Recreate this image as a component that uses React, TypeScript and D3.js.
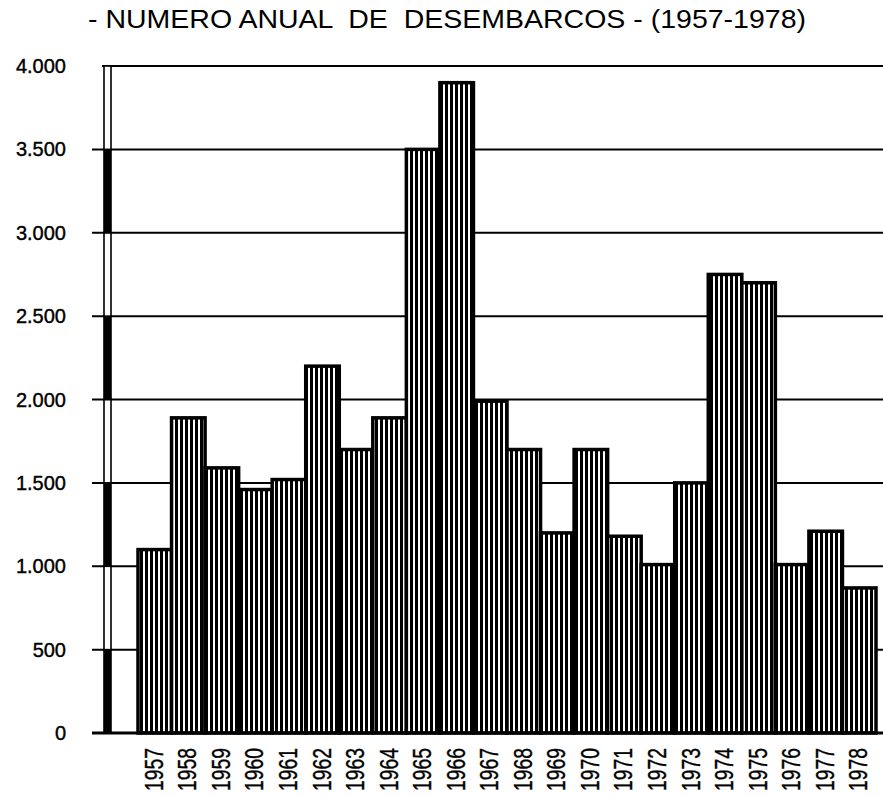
import * as d3 from "d3";
import React, { useEffect, useRef } from "react";

// Datos
const years = [
  "1957", "1958", "1959", "1960", "1961", "1962", "1963", "1964", "1965", "1966", "1967",
  "1968", "1969", "1970", "1971", "1972", "1973", "1974", "1975", "1976", "1977", "1978",
];
const landings = [
  1100, 1890, 1590, 1460, 1520, 2200, 1700, 1890, 3500, 3900, 1990,
  1700, 1200, 1700, 1180, 1010, 1500, 2750, 2700, 1010, 1210, 870,
];
const yTicks = [0, 500, 1000, 1500, 2000, 2500, 3000, 3500, 4000];
const yTickLabels = ["0", "500", "1.000", "1.500", "2.000", "2.500", "3.000", "3.500", "4.000"];
const title = "- NUMERO ANUAL  DE  DESEMBARCOS - (1957-1978)";

export default function App() {
  const ref = useRef<SVGSVGElement>(null);
  const width = 883;
  const height = 796;

  useEffect(() => {
    const svg = d3.select(ref.current);
    svg.selectAll("*").remove();

    const font = "'Liberation Sans', Arial, sans-serif";

    const xScale = d3.scaleBand().domain(years).range([138, 876]).padding(0);
    const yScale = d3.scaleLinear().domain([0, 4000]).range([733, 66]);

    // Patrón de rayas verticales para las barras
    const defs = svg.append("defs");
    const pat = defs
      .append("pattern")
      .attr("id", "stripes")
      .attr("patternUnits", "userSpaceOnUse")
      .attr("width", 5)
      .attr("height", 10);
    pat.append("rect").attr("width", 5).attr("height", 10).attr("fill", "#fff");
    pat.append("rect").attr("x", 0).attr("width", 3).attr("height", 10).attr("fill", "#000");

    // Título
    svg
      .append("text")
      .attr("x", 88)
      .attr("y", 28)
      .attr("font-family", font)
      .attr("font-size", 26)
      .attr("textLength", 718)
      .attr("lengthAdjust", "spacingAndGlyphs")
      .style("white-space", "pre")
      .attr("fill", "#000")
      .text(title);

    // Líneas de la rejilla
    svg
      .append("g")
      .selectAll("line")
      .data(yTicks.filter((t) => t > 0))
      .join("line")
      .attr("x1", (d) => (d === 4000 ? 102 : 92))
      .attr("x2", width)
      .attr("y1", (d) => yScale(d))
      .attr("y2", (d) => yScale(d))
      .attr("stroke", "#000")
      .attr("stroke-width", 2);

    // Etiquetas del eje y
    svg
      .append("g")
      .selectAll("text")
      .data(yTicks)
      .join("text")
      .attr("x", 66)
      .attr("y", (d) => yScale(d))
      .attr("dy", "0.35em")
      .attr("text-anchor", "end")
      .attr("font-family", font)
      .attr("font-size", 20)
      .attr("fill", "#000")
      .attr("stroke", "#000")
      .attr("stroke-width", 0.4)
      .text((_, i) => yTickLabels[i]);

    // Eje y como barra de escala alternada
    const segs = d3.range(yTicks.length - 1);
    svg
      .append("g")
      .selectAll("rect")
      .data(segs)
      .join("rect")
      .attr("x", 104)
      .attr("width", 7)
      .attr("y", (i) => yScale(yTicks[i + 1]))
      .attr("height", (i) => yScale(yTicks[i]) - yScale(yTicks[i + 1]))
      .attr("fill", (i) => (i % 2 === 0 ? "#000" : "#fff"))
      .attr("stroke", "#000")
      .attr("stroke-width", 1.6);

    // Barras
    svg
      .append("g")
      .selectAll("rect")
      .data(d3.range(years.length))
      .join("rect")
      .attr("x", (i) => xScale(years[i])!)
      .attr("y", (i) => yScale(landings[i]))
      .attr("width", xScale.bandwidth())
      .attr("height", (i) => yScale(0) - yScale(landings[i]))
      .attr("fill", "url(#stripes)")
      .attr("stroke", "#000")
      .attr("stroke-width", 3.5);

    // Línea base
    svg
      .append("line")
      .attr("x1", 92)
      .attr("x2", width)
      .attr("y1", yScale(0))
      .attr("y2", yScale(0))
      .attr("stroke", "#000")
      .attr("stroke-width", 3);

    // Etiquetas del eje x, giradas
    svg
      .append("g")
      .selectAll("text")
      .data(years)
      .join("text")
      .attr("transform", (d) => `translate(${xScale(d)! + xScale.bandwidth() / 2 + 8},748) rotate(-90)`)
      .attr("text-anchor", "end")
      .attr("font-family", font)
      .attr("font-size", 26)
      .attr("textLength", 43)
      .attr("lengthAdjust", "spacingAndGlyphs")
      .attr("fill", "#000")
      .attr("stroke", "#000")
      .attr("stroke-width", 0.4)
      .text((d) => d);
  }, []);

  return (
    <svg
      ref={ref}
      width={width}
      height={height}
      style={{ position: "absolute", left: 0, top: 0, background: "#fff" }}
    ></svg>
  );
}
